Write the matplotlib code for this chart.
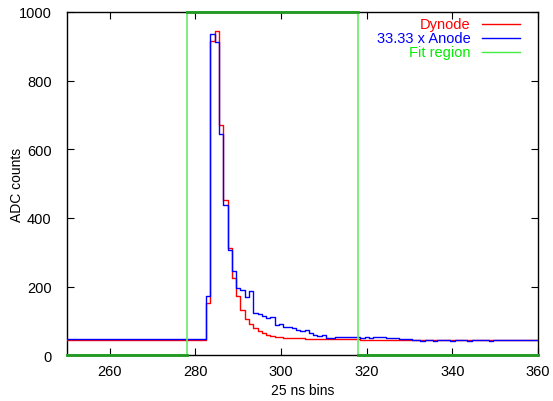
import numpy as np
import matplotlib
matplotlib.use("Agg")
import matplotlib.pyplot as plt
from matplotlib.lines import Line2D

plt.rcParams['font.family'] = ['Liberation Sans', 'DejaVu Sans']

bins = np.arange(250, 361)

dynode_pre = [44, 44, 44, 44, 44, 44, 44, 44, 44, 44,
              44, 44, 44, 44, 44, 44, 44, 44, 44, 44,
              44, 44, 44, 44, 44, 44, 44, 44, 44, 44,
              44, 44, 44]  # 250..282
dynode_pulse = [152, 915, 943, 669, 453, 313, 226, 172, 132, 106,
                91, 79, 69, 64, 59, 56, 54, 52, 51, 50,
                50, 49, 49, 48, 48, 48, 47, 47, 47, 47,
                46, 46, 46, 46, 46, 46, 45, 45, 45, 45,
                45, 45, 45, 45, 45, 45, 45, 45]  # 283..330
dynode_post = [43] * 30  # 331..360

anode_pre = [46, 46, 46, 47, 46, 46, 46, 46, 46, 46,
             46, 46, 47, 46, 46, 46, 46, 46, 46, 46,
             47, 46, 46, 46, 46, 46, 47, 46, 46, 46,
             46, 46, 46]  # 250..282
anode_pulse = [172, 935, 911, 643, 437, 306, 245, 195, 190, 169,
               187, 123, 120, 113, 108, 111, 87, 92, 82, 81,
               79, 74, 71, 72, 64, 59, 56, 59, 50, 50,
               52, 54, 54, 53, 54, 52, 50, 52, 51, 53,
               53, 52, 50, 50, 49, 47, 47, 46]  # 283..330
anode_post = [43, 43, 42, 43, 43, 42, 43, 43, 43, 42,
              43, 43, 43, 42, 43, 43, 43, 43, 42, 43,
              43, 43, 43, 43, 44, 44, 44, 44, 44, 44]  # 331..360

dynode = np.array(dynode_pre + dynode_pulse + dynode_post)
anode = np.array(anode_pre + anode_pulse + anode_post)

fit_lo, fit_hi = 278, 318
xmin, xmax = 250, 360
ymin, ymax = 0, 1000

fig = plt.figure(figsize=(5.53, 4.02), dpi=100)
ax = fig.add_axes([0.121, 0.114, 0.852, 0.854])

ax.step(bins, dynode, where='mid', color='#ff0000', lw=1.0, zorder=3)
ax.step(bins, anode, where='mid', color='#0000ff', lw=1.0, zorder=4)

# Fit region drawn as a box-like step curve
fx = [xmin, fit_lo, fit_lo, fit_hi, fit_hi, xmax]
fy = [ymin, ymin, ymax, ymax, ymin, ymin]
ax.plot(fx, fy, color='#66ee66', lw=1.2, zorder=5, clip_on=False)
ax.plot([xmin, fit_lo], [ymin, ymin], color='#229922', lw=2.0, zorder=6, clip_on=False)
ax.plot([fit_hi, xmax], [ymin, ymin], color='#229922', lw=2.0, zorder=6, clip_on=False)
ax.plot([fit_lo, fit_hi], [ymax, ymax], color='#229922', lw=2.0, zorder=6, clip_on=False)

ax.set_xlim(xmin, xmax)
ax.set_ylim(ymin, ymax)
ax.set_xticks(np.arange(260, 361, 20))
ax.set_yticks(np.arange(0, 1001, 200))
ax.tick_params(direction='in', top=True, right=True, length=5, width=0.8,
               labelsize=10.5, colors='black')
ax.tick_params(axis='x', pad=6)
ax.tick_params(axis='y', pad=11)
for s in ax.spines.values():
    s.set_linewidth(1.0)
ax.set_xlabel('25 ns bins', fontsize=10)
ax.set_ylabel('ADC counts', fontsize=10)
ax.xaxis.set_label_coords(0.5, -0.082)
ax.yaxis.set_label_coords(-0.092, 0.5)

# gnuplot-style legend: right-aligned coloured text, line sample on the right
labels = ['Dynode', '33.33 x Anode', 'Fit region']
colors = ['#ff0000', '#0000ff', '#00ee00']
lcolors = ['#ff0000', '#0000ff', '#44ee44']
y0 = 0.966
dy = 0.042
for i, (lab, c, lc) in enumerate(zip(labels, colors, lcolors)):
    y = y0 - i * dy
    ax.text(0.857, y, lab, transform=ax.transAxes, ha='right', va='center',
            color=c, fontsize=10.5, zorder=7)
    ax.add_line(Line2D([0.881, 0.962], [y, y], transform=ax.transAxes,
                       color=lc, lw=1.0, zorder=7))

fig.savefig('out.png', dpi=100)
